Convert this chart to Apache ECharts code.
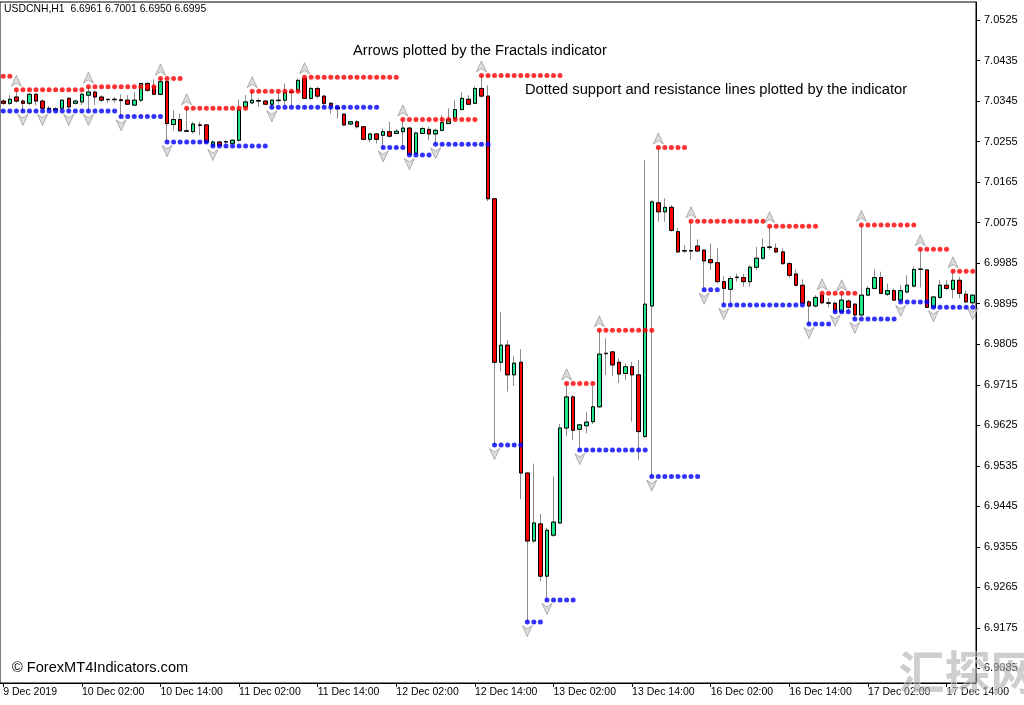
<!DOCTYPE html>
<html><head><meta charset="utf-8">
<script src="https://cdn.jsdelivr.net/npm/echarts@6/dist/echarts.min.js"></script>
<style>html,body{margin:0;padding:0;background:#fff}#c{width:1024px;height:705px}</style>
</head><body><div id="c"></div>
<script>
const xTickLabels = ["9 Dec 2019","10 Dec 02:00","10 Dec 14:00","11 Dec 02:00","11 Dec 14:00","12 Dec 02:00","12 Dec 14:00","13 Dec 02:00","13 Dec 14:00","16 Dec 02:00","16 Dec 14:00","17 Dec 02:00","17 Dec 14:00"];
const barsPerTick = 12;
const yTicks = [6.9085,6.9175,6.9265,6.9355,6.9445,6.9535,6.9625,6.9715,6.9805,6.9895,6.9985,7.0075,7.0165,7.0255,7.0345,7.0435,7.0525];

const opens = [7.0345,7.0340,7.0354,7.0345,7.0340,7.0360,7.0345,7.0327,7.0325,7.0329,
7.0351,7.0340,7.0343,7.0358,7.0365,7.0354,7.0349,7.0348,7.0348,7.0347,
7.0336,7.0347,7.0384,7.0377,7.0360,7.0388,7.0293,7.0304,7.0279,7.0277,
7.0292,7.0292,7.0247,7.0254,7.0254,7.0251,7.0258,7.0332,7.0341,7.0346,
7.0345,7.0338,7.0346,7.0347,7.0366,7.0369,7.0395,7.0351,7.0373,7.0356,
7.0340,7.0331,7.0316,7.0294,7.0299,7.0288,7.0260,7.0272,7.0269,7.0277,
7.0273,7.0277,7.0285,7.0229,7.0273,7.0282,7.0272,7.0280,7.0295,7.0306,
7.0326,7.0349,7.0340,7.0373,7.0356,7.0128,6.9765,6.9803,6.9737,6.9765,
6.9519,6.9368,6.9406,6.9290,6.9381,6.9408,6.9619,6.9688,6.9616,6.9624,
6.9633,6.9666,6.9785,6.9788,6.9765,6.9740,6.9755,6.9737,6.9600,6.9890,
7.0119,7.0099,7.0109,7.0055,7.0013,7.0013,7.0023,7.0014,6.9993,6.9986,
6.9944,6.9927,6.9954,6.9953,6.9944,6.9976,6.9996,7.0021,7.0018,7.0010,
6.9984,6.9961,6.9936,6.9899,6.9890,6.9914,6.9896,6.9896,6.9877,6.9901,
6.9894,6.9870,6.9914,6.9929,6.9953,6.9916,6.9924,6.9903,6.9921,6.9934,
6.9972,6.9970,6.9887,6.9909,6.9936,6.9927,6.9947,6.9916,6.9897];
const highs = [7.0349,7.0358,7.0370,7.0349,7.0363,7.0363,7.0349,7.0334,7.0331,7.0349,
7.0354,7.0348,7.0365,7.0377,7.0369,7.0358,7.0350,7.0354,7.0360,7.0358,
7.0365,7.0385,7.0388,7.0393,7.0395,7.0391,7.0325,7.0317,7.0329,7.0299,
7.0299,7.0294,7.0258,7.0257,7.0258,7.0260,7.0349,7.0358,7.0367,7.0351,
7.0348,7.0349,7.0365,7.0384,7.0367,7.0395,7.0398,7.0377,7.0377,7.0358,
7.0343,7.0336,7.0317,7.0301,7.0303,7.0289,7.0274,7.0273,7.0284,7.0299,
7.0282,7.0304,7.0288,7.0277,7.0288,7.0288,7.0284,7.0314,7.0329,7.0347,
7.0365,7.0358,7.0378,7.0402,7.0380,7.0129,6.9876,6.9814,6.9779,6.9794,
6.9519,6.9540,6.9428,6.9397,6.9511,6.9628,6.9718,6.9692,6.9628,6.9655,
6.9712,6.9836,6.9818,6.9789,6.9774,6.9762,6.9766,6.9770,7.0214,7.0125,
7.0242,7.0129,7.0114,7.0063,7.0025,7.0078,7.0038,7.0015,7.0029,7.0018,
6.9956,6.9956,6.9962,6.9962,6.9981,7.0021,7.0040,7.0067,7.0029,7.0018,
6.9988,6.9971,6.9949,6.9903,6.9914,6.9918,6.9907,6.9899,6.9916,6.9905,
6.9897,7.0070,6.9934,6.9971,6.9966,6.9940,6.9929,6.9936,6.9958,6.9978,
7.0016,6.9971,6.9910,6.9947,6.9947,6.9967,6.9955,6.9924,6.9916];
const lows = [7.0336,7.0336,7.0341,7.0323,7.0336,7.0336,7.0323,7.0324,7.0324,7.0327,
7.0323,7.0337,7.0336,7.0323,7.0336,7.0343,7.0341,7.0341,7.0311,7.0336,
7.0336,7.0343,7.0365,7.0360,7.0358,7.0254,7.0280,7.0277,7.0276,7.0273,
7.0269,7.0251,7.0245,7.0246,7.0250,7.0249,7.0254,7.0325,7.0338,7.0332,
7.0336,7.0331,7.0340,7.0336,7.0336,7.0365,7.0349,7.0347,7.0351,7.0332,
7.0317,7.0306,7.0289,7.0292,7.0284,7.0258,7.0254,7.0251,7.0242,7.0264,
7.0272,7.0245,7.0225,7.0227,7.0272,7.0258,7.0249,7.0277,7.0294,7.0304,
7.0325,7.0336,7.0338,7.0353,7.0123,6.9581,6.9745,6.9700,6.9712,6.9461,
6.9188,6.9364,6.9278,6.9237,6.9377,6.9406,6.9601,6.9592,6.9570,6.9607,
6.9628,6.9663,6.9737,6.9734,6.9719,6.9725,6.9633,6.9548,6.9597,6.9511,
7.0077,7.0077,7.0055,7.0008,7.0008,6.9992,7.0010,6.9926,6.9970,6.9940,
6.9892,6.9892,6.9944,6.9933,6.9933,6.9970,6.9992,7.0014,7.0007,6.9981,
6.9953,6.9933,6.9894,6.9850,6.9887,6.9894,6.9887,6.9877,6.9879,6.9881,
6.9861,6.9867,6.9912,6.9927,6.9916,6.9912,6.9901,6.9899,6.9918,6.9931,
6.9931,6.9888,6.9887,6.9905,6.9925,6.9907,6.9907,6.9897,6.9892];
const closes = [7.0340,7.0349,7.0345,7.0340,7.0360,7.0345,7.0329,7.0329,7.0328,7.0347,
7.0332,7.0345,7.0360,7.0365,7.0354,7.0347,7.0348,7.0349,7.0346,7.0338,
7.0347,7.0384,7.0369,7.0360,7.0388,7.0295,7.0304,7.0279,7.0278,7.0294,
7.0291,7.0254,7.0254,7.0246,7.0255,7.0258,7.0325,7.0343,7.0347,7.0345,
7.0338,7.0347,7.0347,7.0365,7.0364,7.0391,7.0351,7.0373,7.0356,7.0340,
7.0334,7.0328,7.0292,7.0299,7.0288,7.0260,7.0272,7.0260,7.0277,7.0267,
7.0278,7.0285,7.0227,7.0274,7.0284,7.0272,7.0280,7.0297,7.0304,7.0326,
7.0351,7.0338,7.0373,7.0356,7.0128,6.9765,6.9803,6.9737,6.9763,6.9519,
6.9368,6.9408,6.9290,6.9392,6.9410,6.9619,6.9688,6.9614,6.9626,6.9632,
6.9666,6.9783,6.9784,6.9759,6.9739,6.9755,6.9737,6.9611,6.9894,7.0121,
7.0099,7.0109,7.0058,7.0010,7.0012,7.0012,7.0012,6.9990,6.9986,6.9944,
6.9929,6.9951,6.9953,6.9944,6.9976,6.9996,7.0020,7.0020,7.0010,6.9984,
6.9958,6.9936,6.9896,6.9890,6.9909,6.9897,6.9897,6.9879,6.9903,6.9887,
6.9870,6.9914,6.9929,6.9953,6.9918,6.9924,6.9903,6.9924,6.9936,6.9971,
6.9971,6.9887,6.9910,6.9936,6.9929,6.9947,6.9918,6.9899,6.9914];

const upFractalBars = [2,13,24,28,38,46,61,73,86,91,100,105,117,125,128,131,140,145];
const downFractalBars = [3,6,10,13,18,25,32,41,58,62,66,75,80,83,88,99,107,110,123,127,130,137,142,148];

// [firstBar, lastBar, level]
const resistanceSegments = [[0,1,7.0400],[2,12,7.0370],[13,23,7.0377],[24,27,7.0395],[28,37,7.0329],
[38,45,7.0367],[46,60,7.0398],[61,72,7.0304],[73,85,7.0402],[86,90,6.9718],[91,99,6.9836],
[100,104,7.0242],[105,116,7.0078],[117,124,7.0067],[125,130,6.9918],[131,139,7.0070],
[140,144,7.0016],[145,148,6.9967]];
const supportSegments = [[0,17,7.0323],[18,24,7.0311],[25,31,7.0254],[32,40,7.0245],[41,57,7.0331],
[58,61,7.0242],[62,65,7.0225],[66,74,7.0249],[75,79,6.9581],[80,82,6.9188],[83,87,6.9237],
[88,98,6.9570],[99,106,6.9511],[107,109,6.9926],[110,122,6.9892],[123,126,6.9850],
[127,129,6.9877],[130,136,6.9861],[137,141,6.9899],[142,148,6.9887]];

const categories = opens.map((_, i) => String(i));
const candleData = opens.map((o, i) => [o, closes[i], lows[i], highs[i]]);
const bodyData = opens.map((o, i) => [o, closes[i], Math.min(o, closes[i]), Math.max(o, closes[i])]);
function expand(segs) {
  const out = [];
  segs.forEach(s => { for (let i = s[0]; i <= s[1]; i++) out.push([i, s[2]]); });
  return out;
}
const upArrow = 'path://M5,0 L10,10 L5,7 L0,10 Z';
const downArrow = 'path://M0,0 L5,3 L10,0 L5,10 Z';
const isTick = (i) => i % barsPerTick === 0;

const chart = echarts.init(document.getElementById('c'), null, {renderer: 'canvas'});
chart.setOption({
  animation: false,
  backgroundColor: '#fff',
  grid: {left: 0, right: 48, top: 2, bottom: 22, show: true, borderColor: '#000', borderWidth: 1, containLabel: false},
  xAxis: {
    type: 'category', data: categories, boundaryGap: true,
    axisLine: {show: true, lineStyle: {color: '#000', width: 1}},
    axisTick: {show: true, alignWithLabel: true, interval: (i) => isTick(i), length: 4, lineStyle: {color: '#000'}},
    axisLabel: {interval: (i) => isTick(i), formatter: (v, i) => xTickLabels[i / barsPerTick] || '',
      align: 'left', margin: 4, color: '#000', fontFamily: 'Liberation Sans', fontSize: 10.5},
    splitLine: {show: false}
  },
  yAxis: {
    type: 'value', position: 'right', min: 6.90527, max: 7.0565, scale: true,
    axisLine: {show: true, lineStyle: {color: '#000', width: 1}},
    axisTick: {show: true, customValues: yTicks, length: 4, lineStyle: {color: '#000'}},
    axisLabel: {customValues: yTicks, formatter: (v) => v.toFixed(4), margin: 8, color: '#000', fontFamily: 'Liberation Sans', fontSize: 11},
    splitLine: {show: false}
  },
  series: [
    {type: 'candlestick', data: candleData, barWidth: 4, z: 2,
      itemStyle: {color: '#22e58c', color0: '#ff0000', borderColor: '#8c8c8c', borderColor0: '#8c8c8c', borderWidth: 1}},
    {type: 'candlestick', data: bodyData, barWidth: 4, z: 3,
      itemStyle: {color: '#22e58c', color0: '#ff0000', borderColor: '#000', borderColor0: '#000', borderWidth: 1}},
    {type: 'scatter', data: expand(resistanceSegments), symbol: 'circle', symbolSize: 5, z: 4,
      itemStyle: {color: '#ff0000'}},
    {type: 'scatter', data: expand(supportSegments), symbol: 'circle', symbolSize: 5, z: 4,
      itemStyle: {color: '#0000ff'}},
    {type: 'scatter', data: upFractalBars.map(i => [i, highs[i]]), symbol: upArrow, symbolSize: [10, 11], symbolOffset: [0, -9], z: 5,
      itemStyle: {color: '#d4d4d4', borderColor: '#8a8a8a', borderWidth: 0.8}},
    {type: 'scatter', data: downFractalBars.map(i => [i, lows[i]]), symbol: downArrow, symbolSize: [10, 11], symbolOffset: [0, 9], z: 5,
      itemStyle: {color: '#d4d4d4', borderColor: '#8a8a8a', borderWidth: 0.8}}
  ],
  graphic: [
    {type: 'text', left: 4, top: 4, style: {text: 'USDCNH,H1  6.6961 6.7001 6.6950 6.6995', fill: '#000', font: '10.4px "Liberation Sans"'}},
    {type: 'text', left: 353, top: 43, style: {text: 'Arrows plotted by the Fractals indicator', fill: '#000', font: '14.7px "Liberation Sans"'}},
    {type: 'text', left: 525, top: 82, style: {text: 'Dotted support and resistance lines plotted by the indicator', fill: '#000', font: '14.7px "Liberation Sans"'}},
    {type: 'text', left: 12, top: 660, style: {text: '© ForexMT4Indicators.com', fill: '#000', font: '14.6px "Liberation Sans"'}},
    {type: 'text', left: 898, top: 648, z: 100, style: {text: '汇探网', fill: 'rgba(165,165,165,0.55)', stroke: 'rgba(255,255,255,0.6)', lineWidth: 1, font: 'bold 46px "Noto Sans CJK SC"'}}
  ]
});
</script></body></html>
